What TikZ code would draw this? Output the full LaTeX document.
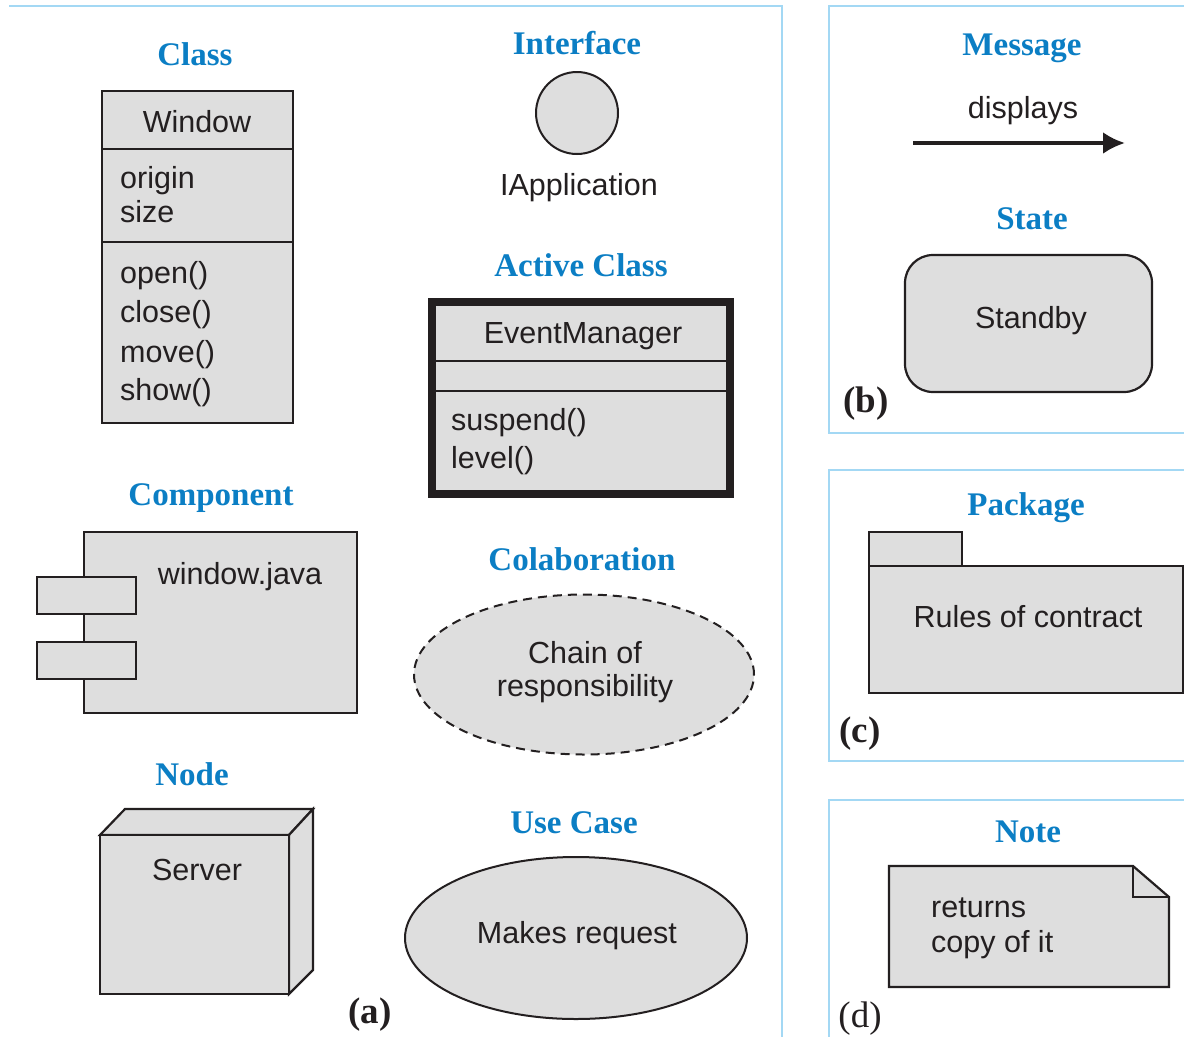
\documentclass[tikz,border=0pt]{standalone}
\usepackage{fontspec}
\setmainfont{Liberation Serif}
\setsansfont{Liberation Sans}
\usetikzlibrary{arrows.meta}
\definecolor{frameblue}{HTML}{A3D8F4}
\definecolor{titleblue}{HTML}{0B7EC4}
\definecolor{shapefill}{HTML}{DEDEDE}
\definecolor{ink}{HTML}{231F20}
\tikzset{
  title/.style={font=\fontsize{33}{36}\selectfont\rmfamily\bfseries, text=titleblue, anchor=base, inner sep=0pt},
  lbl/.style={font=\fontsize{30.5}{36}\selectfont\sffamily, text=ink, anchor=base, inner sep=0pt},
  lbll/.style={lbl, anchor=base west},
  panellbl/.style={font=\fontsize{37}{40}\selectfont\rmfamily\bfseries, text=ink, anchor=base, inner sep=0pt},
  frame/.style={draw=frameblue, line width=2pt},
  umlshape/.style={fill=shapefill, draw=ink, line width=2.2pt},
  divider/.style={draw=ink, line width=2.2pt},
}
\begin{document}
\begin{tikzpicture}[x=1pt,y=-1pt]
\useasboundingbox (0,0) rectangle (1184,1037);

% panel frames
\draw[frame] (9,6) -- (782,6) -- (782,1037);
\draw[frame] (1184,6) -- (829,6) -- (829,433) -- (1184,433);
\draw[frame] (1184,470) -- (829,470) -- (829,761) -- (1184,761);
\draw[frame] (1184,800) -- (829,800) -- (829,1037);

% Class
\node[title] (tclass) at (195,65) {Class};
\draw[umlshape] (102,91) rectangle (293,423);
\draw[divider] (102,149) -- (293,149) (102,242) -- (293,242);
\node[lbl] (cname) at (197,132) {Window};
\node[lbll] (cattr1) at (120,188) {origin};
\node[lbll] (cattr2) at (120,222) {size};
\node[lbll] (cop1) at (120,283) {open()};
\node[lbll] (cop2) at (120,322) {close()};
\node[lbll] (cop3) at (120,362) {move()};
\node[lbll] (cop4) at (120,400) {show()};

% Interface
\node[title] (tiface) at (577,54) {Interface};
\draw[umlshape, line width=2pt] (577,113) circle[radius=41pt];
\node[lbl] (iname) at (579,195) {IApplication};

% Active class
\node[title] (tactive) at (581,276) {Active Class};
\draw[fill=shapefill, draw=ink, line width=8pt] (432,302) rectangle (730,494);
\draw[divider] (436,361) -- (726,361) (436,391) -- (726,391);
\node[lbl] (aname) at (583,343) {EventManager};
\node[lbll] (aop1) at (451,430) {suspend()};
\node[lbll] (aop2) at (451,468) {level()};

% Message
\node[title] (tmsg) at (1022,55) {Message};
\node[lbl] (msgtext) at (1023,118) {displays};
\coordinate (msgfrom) at (913,143);
\coordinate (msgto) at (1125,143);
\draw[draw=ink, line width=4pt, -{Latex[length=22pt,width=22pt]}] (msgfrom) -- (msgto);

% State
\node[title] (tstate) at (1032,229) {State};
\draw[umlshape, rounded corners=28pt] (905,255) rectangle (1152,392);
\node[lbl] (sname) at (1031,328) {Standby};
\node[panellbl] (pb) at (866,412) {(b)};

% Component
\node[title] (tcomp) at (211,505) {Component};
\draw[umlshape] (84,532) rectangle (357,713);
\draw[umlshape] (37,577) rectangle (136,614);
\draw[umlshape] (37,642) rectangle (136,679);
\node[lbl] (compname) at (240,584) {window.java};

% Collaboration
\node[title] (tcolab) at (582,570) {Colaboration};
\draw[fill=shapefill, draw=ink, line width=2pt, dash pattern=on 9pt off 6pt]
  (584,674.5) ellipse[x radius=170pt, y radius=80pt];
\node[lbl] (colab1) at (585,663) {Chain of};
\node[lbl] (colab2) at (585,696) {responsibility};

% Package
\node[title] (tpkg) at (1026,515) {Package};
\draw[umlshape] (869,532) rectangle (962,566);
\draw[umlshape] (869,566) rectangle (1183,693);
\node[lbl] (pkgname) at (1028,627) {Rules of contract};
\node[panellbl] (pc) at (860,742) {(c)};

% Node
\node[title] (tnode) at (192,785) {Node};
\draw[umlshape] (100,835) -- (125,809) -- (313,809) -- (289,835) -- cycle;
\draw[umlshape] (289,835) -- (313,809) -- (313,970) -- (289,994) -- cycle;
\draw[umlshape] (100,835) rectangle (289,994);
\node[lbl] (nname) at (197,880) {Server};
\node[panellbl] (pa) at (370,1023) {(a)};

% Use case
\node[title] (tuse) at (574,833) {Use Case};
\draw[umlshape, line width=2pt] (576,938) ellipse[x radius=171pt, y radius=81pt];
\node[lbl] (usename) at (577,943) {Makes request};

% Note
\node[title] (tnote) at (1028,842) {Note};
\draw[umlshape] (889,866) -- (1133,866) -- (1169,897) -- (1169,987) -- (889,987) -- cycle;
\draw[divider] (1133,866) -- (1133,897) -- (1169,897);
\node[lbll] (note1) at (931,917) {returns};
\node[lbll] (note2) at (931,952) {copy of it};
\node[panellbl, font=\fontsize{37}{40}\selectfont\rmfamily] (pd) at (860,1027) {(d)};
\end{tikzpicture}
\end{document}
